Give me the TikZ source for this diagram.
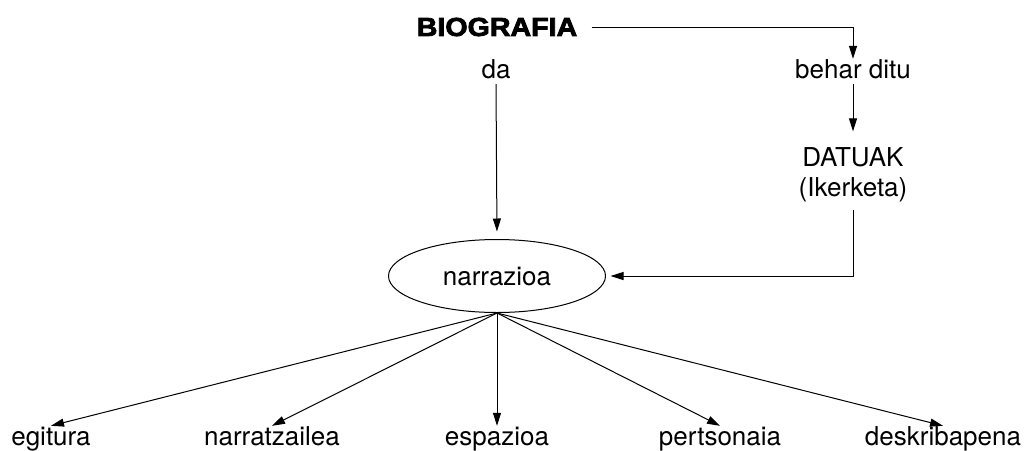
\documentclass[tikz,border=0pt]{standalone}
\usepackage{fontspec}
\setmainfont{TeX Gyre Heros}
\newfontfamily\blackfont[FakeStretch=1.1,FakeBold=3]{Liberation Sans}
\usetikzlibrary{arrows.meta,shapes.geometric}

\begin{document}
\begin{tikzpicture}[x=0.5pt,y=-0.5pt,
    word/.style={inner sep=0pt, text height=9.4pt, text depth=2.8pt,
        font=\fontsize{13}{15}\selectfont},
    link/.style={line width=0.5pt, -{Triangle[length=6.5pt,width=4pt]}}]
    \useasboundingbox (0,0) rectangle (1026,450);

    \node[inner sep=0pt, font=\blackfont\bfseries\fontsize{13}{15}\selectfont] (bio) at (497,27) {BIOGRAFIA};
    \node[word] (da) at (496,71.4) {da};
    \node[word] (behar) at (853,71.4) {behar ditu};
    \node[align=center, inner sep=0pt, font=\fontsize{13}{15}\selectfont] (datuak) at (853,175) {DATUAK\\(Ikerketa)};

    \node[draw, ellipse, line width=0.5pt, minimum width=108.5pt, minimum height=36.5pt,
        inner sep=0pt, font=\fontsize{13}{15}\selectfont] (narr) at (497,276) {narrazioa};

    \node[word] (egitura) at (51,438.4) {egitura};
    \node[word] (narratzailea) at (272,438.4) {narratzailea};
    \node[word] (espazioa) at (497,438.4) {espazioa};
    \node[word] (pertsonaia) at (720,438.4) {pertsonaia};
    \node[word] (deskribapena) at (943,438.4) {deskribapena};

    \draw[link, shorten <=7pt] (bio.east) -| (behar.north);
    \draw[link, shorten >=3.75pt] (da.south) -- (narr.north);
    \draw[link, shorten >=8pt] (behar.south) -- (datuak.north);
    \draw[link, shorten <=3.75pt, shorten >=2.25pt] (datuak.south) |- (narr.east);

    \foreach \n in {egitura,narratzailea,espazioa,pertsonaia,deskribapena} {
        \draw[link] (narr.south) -- (\n.north);
    }
\end{tikzpicture}
\end{document}
